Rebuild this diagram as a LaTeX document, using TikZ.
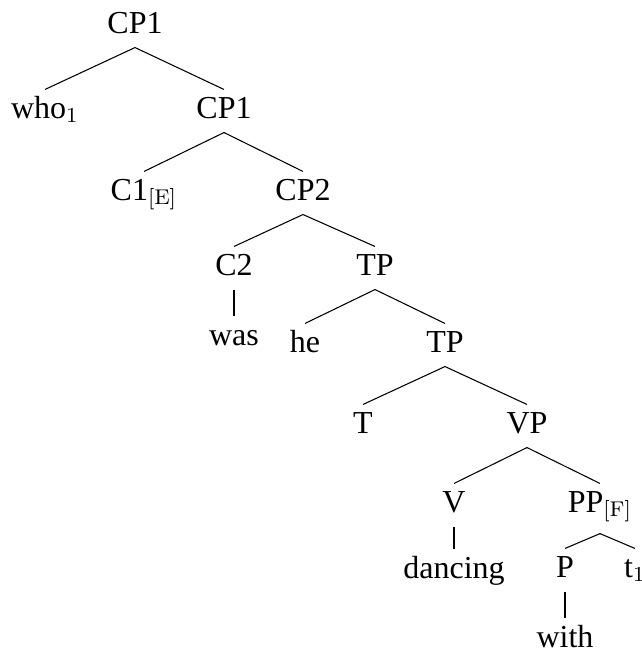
\documentclass[tikz,border=0pt]{standalone}
\usepackage[no-math]{fontspec}
\setmainfont{Liberation Serif}
\usepackage{amsmath}

\begin{document}
\begin{tikzpicture}[x=0.375pt, y=-0.375pt, font=\fontsize{12}{14}\selectfont,
  lab/.style={anchor=base, inner xsep=1pt, inner ysep=2.5pt, text height=8pt, text depth=2.75pt},
  labsub/.style={lab, text depth=5.4pt}]
\useasboundingbox (0,0) rectangle (642,652);
%%%%% Labels %%%%%
\node[lab] (cpa) at (135,33) {CP1};
\node[lab] (who) at (45,118) {who$_1$};
\node[lab] (cpb) at (224,118) {CP1};
\node[lab] (ce) at (144,200) {C1$_{\mathrm{[E]}}$};
\node[lab] (cpc) at (303,200) {CP2};
\node[lab] (ctwo) at (234,275) {C2};
\node[lab] (tpa) at (375,275) {TP};
\node[lab] (was) at (234,345) {was};
\node[lab] (he) at (305,352) {he};
\node[lab] (tpb) at (445,352) {TP};
\node[lab] (t) at (363,433) {T};
\node[lab] (vp) at (527,433) {VP};
\node[lab] (v) at (454,512) {V};
\node[labsub] (pp) at (600,512) {PP$_{\mathrm{[F]}}$};
\node[lab] (dancing) at (454,578) {dancing};
\node[lab] (p) at (565,577) {P};
\node[lab] (trace) at (635,577) {t$_1$};
\node[lab] (with) at (565,647) {with};
%%%%% Branches %%%%%
\foreach \a/\b in {cpa/who,cpa/cpb,cpb/ce,cpb/cpc,cpc/ctwo,cpc/tpa,ctwo/was,
  tpa/he,tpa/tpb,tpb/t,tpb/vp,vp/v,vp/pp,v/dancing,pp/p,pp/trace,p/with}{
\draw (\a.south) -- (\b.north);
}
\end{tikzpicture}
\end{document}
